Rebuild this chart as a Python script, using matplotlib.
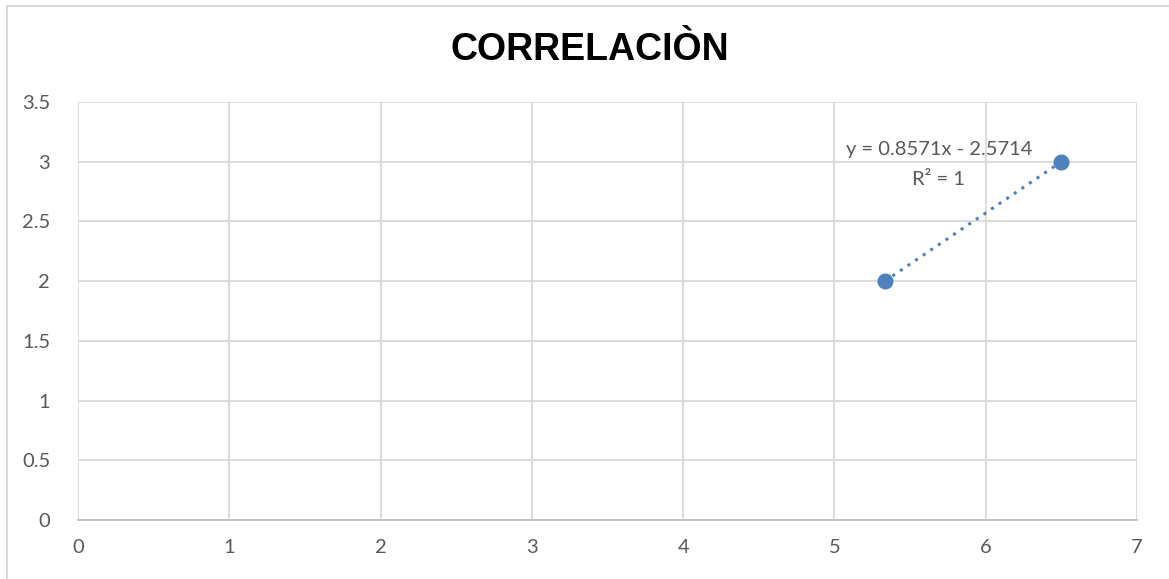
import matplotlib.pyplot as plt
from matplotlib.patches import Rectangle

# data
x_vals = [5.3333, 6.5]
y_vals = [2.0, 3.0]
x_ticks = [0, 1, 2, 3, 4, 5, 6, 7]
y_ticks = [0, 0.5, 1, 1.5, 2, 2.5, 3, 3.5]
title = "CORRELACIÒN"
eq_text = "y = 0.8571x - 2.5714"
r2_text = "R² = 1"

plt.rcParams['font.family'] = ['Lato', 'DejaVu Sans']

fig = plt.figure(figsize=(11.69, 5.79), dpi=100)
ax = fig.add_axes([78 / 1169, 1 - 520 / 579, (1137 - 78) / 1169, (520 - 102) / 579])

# outer chart border
fig.patches.append(Rectangle((7 / 1169, -0.05), 1.1, 1 - 6 / 579 + 0.05,
                             transform=fig.transFigure, fill=False,
                             edgecolor="#d9d9d9", linewidth=1.5))

# linear trendline
n = len(x_vals)
mx = sum(x_vals) / n
my = sum(y_vals) / n
slope = sum((a - mx) * (b - my) for a, b in zip(x_vals, y_vals)) / sum((a - mx) ** 2 for a in x_vals)
icept = my - slope * mx
ax.plot(x_vals, [slope * a + icept for a in x_vals], linestyle=(0, (1, 2)),
        color="#4f81bd", linewidth=2.2, zorder=3)
ax.plot(x_vals, y_vals, "o", color="#4f81bd", markersize=10.5, zorder=4)

ax.text(5.69, 3.10, eq_text, ha="center", va="center", fontsize=14.5, color="#595959")
ax.text(5.69, 2.85, r2_text, ha="center", va="center", fontsize=14.5, color="#595959")

ax.set_xlim(0, 7)
ax.set_ylim(0, 3.5)
ax.set_xticks(x_ticks)
ax.set_yticks(y_ticks)
ax.set_xticklabels([str(t) for t in x_ticks])
ax.set_yticklabels([("%g" % t) for t in y_ticks])
ax.tick_params(length=0, labelsize=14.5, labelcolor="#595959", pad=14)
ax.tick_params(axis="y", pad=20)
ax.grid(True, color="#d9d9d9", linewidth=1.3)
ax.set_axisbelow(True)
for s in ["top", "right", "left"]:
    ax.spines[s].set_visible(False)
ax.spines["bottom"].set_color("#bfbfbf")
ax.spines["bottom"].set_linewidth(1.3)

fig.text(590 / 1169, 1 - 50 / 579, title, ha="center", va="center",
         fontsize=27, fontweight="bold", family="Liberation Sans", color="black")

fig.savefig("out.png", dpi=100)
